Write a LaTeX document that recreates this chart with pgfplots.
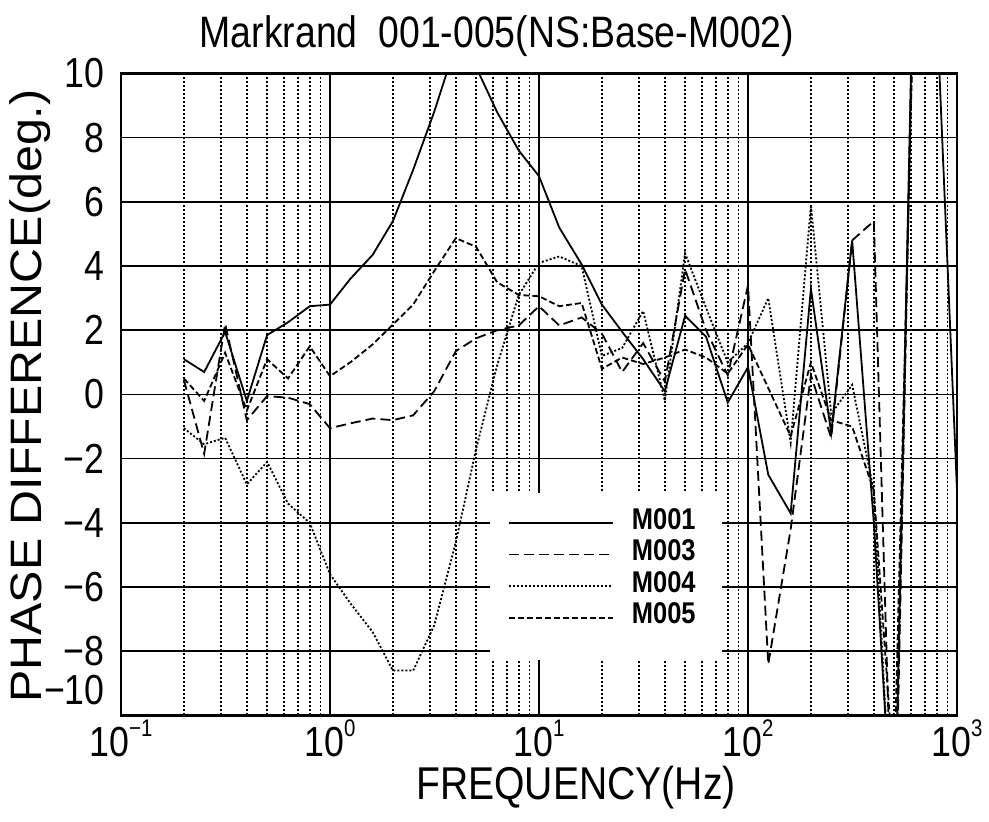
\documentclass[border=0pt]{standalone}
\usepackage{fontspec}
\setmainfont{Liberation Sans}[FakeStretch=0.85]
\newfontfamily\plainsans{Liberation Sans}
\usepackage{pgfplots}
\pgfplotsset{compat=1.18}
\newcommand\tp[1]{10\raisebox{10pt}{\fontsize{12}{12}\selectfont #1}}
\begin{document}
\begin{tikzpicture}
\begin{axis}[
  at={(0,0)}, anchor=south west,
  scale only axis, width=418pt, height=321pt,
  xmode=log, xmin=0.1, xmax=1000, ymin=-10, ymax=10,
  xtick={0.1,1,10,100,1000},
  xticklabels={\tp{−1},\tp{0},\tp{1},\tp{2},\tp{3}},
  minor xtick={0.2,0.3,0.4,0.5,0.6,0.7,0.8,0.9,2,3,4,5,6,7,8,9,20,30,40,50,60,70,80,90,200,300,400,500,600,700,800,900},
  ytick={-8,-6,-4,-2,0,2,4,6,8,10},
  yticklabels={−8,−6,−4,−2,0,2,4,6,8,10},
  extra y ticks={-10},
  extra y tick labels={−10},
  extra y tick style={yticklabel style={yshift=12.5pt}},
  xmajorgrids, xminorgrids, ymajorgrids,
  major x grid style={black, line width=0.8pt},
  minor x grid style={black, line width=0.9pt, dash pattern=on 1pt off 1pt},
  major y grid style={black, line width=0.8pt},
  major tick length=0pt, minor tick length=0pt,
  axis line style={line width=1.3pt},
  tick label style={font=\fontsize{21}{21}\selectfont},
  yticklabel style={anchor=east, inner sep=0pt, xshift=-8pt},
  xticklabel style={anchor=north, inner sep=0pt, yshift=-2pt, text depth=0pt},
  legend style={at={(rel axis cs:0.441,0.347)}, anchor=north west, draw=none, fill=none,
    font=\bfseries\fontsize{15}{15}\selectfont, inner xsep=9pt, inner ysep=7pt,
    row sep=0pt, nodes={text height=11pt, text depth=4.8pt, inner sep=0pt},
    /tikz/every odd column/.append style={column sep=9pt}},
  legend image code/.code={\draw[#1] (0pt,0pt) -- (52pt,0pt);},
  legend cell align=left,
  every axis plot/.append style={black, line width=0.9pt},
]
\addplot[solid] coordinates {
(0.2,1.1) (0.25,0.7) (0.315,1.95) (0.4,-0.2) (0.5,1.85) (0.63,2.25) (0.8,2.75) (1.0,2.8)
(1.25,3.6) (1.6,4.35) (2.0,5.4) (2.5,7.0) (3.15,8.8) (4.0,10.9) (5.0,10.2) (6.3,8.8)
(8.0,7.6) (10,6.8) (12.5,5.2) (16,4.05) (20,2.8) (25,1.95) (31.5,1.1) (40,0.1) (50,2.45)
(63,1.8) (80,-0.25) (100,0.85) (125,-2.5) (160,-3.7) (200,3.3) (250,-1.2) (315,4.8)
(400,-4.0) (500,-14.6) (630,16) (800,12) (1000,-3)
};
\addlegendentry{M001}
\addplot[dash pattern=on 5pt off 2.5pt] coordinates {
(0.2,0.45) (0.25,-1.85) (0.315,2.2) (0.4,-0.8) (0.5,-0.05) (0.63,-0.1) (0.8,-0.3) (1.0,-1.05)
(1.25,-0.9) (1.6,-0.75) (2.0,-0.8) (2.5,-0.65) (3.15,0.1) (4.0,1.35) (5.0,1.75) (6.3,2.0)
(8.0,2.15) (10,2.75) (12.5,2.15) (16,2.4) (20,1.9) (25,0.7) (31.5,1.6) (40,0.4) (50,3.9)
(63,2.0) (80,0.6) (100,3.4) (125,-8.4) (160,-4.2) (200,0.6) (250,-1.35) (315,4.8)
(400,5.4) (500,-16) (630,16) (800,14) (1000,12)
};
\addlegendentry{M003}
\addplot[dash pattern=on 1pt off 1pt] coordinates {
(0.2,-1.05) (0.25,-1.55) (0.315,-1.35) (0.4,-2.8) (0.5,-2.1) (0.63,-3.4) (0.8,-4.0) (1.0,-5.6)
(1.25,-6.5) (1.6,-7.4) (2.0,-8.6) (2.5,-8.6) (3.15,-7.2) (4.0,-4.6) (5.0,-1.7) (6.3,0.9)
(8.0,3.1) (10,4.1) (12.5,4.3) (16,4.0) (20,1.2) (25,1.45) (31.5,2.6) (40,-0.2) (50,4.4)
(63,2.7) (80,1.0) (100,1.6) (125,3.0) (160,-1.5) (200,5.9) (250,-0.6) (315,0.3)
(400,-3.0) (500,-15) (630,15) (800,13) (1000,14)
};
\addlegendentry{M004}
\addplot[dash pattern=on 3pt off 1.5pt] coordinates {
(0.2,0.5) (0.25,-0.2) (0.315,1.3) (0.4,-0.5) (0.5,1.1) (0.63,0.5) (0.8,1.5) (1.0,0.57)
(1.25,1.0) (1.6,1.56) (2.0,2.18) (2.5,2.8) (3.15,3.84) (4.0,4.87) (5.0,4.6) (6.3,3.5)
(8.0,3.1) (10,3.06) (12.5,2.75) (16,2.85) (20,0.8) (25,1.15) (31.5,0.95) (40,1.15) (50,1.4)
(63,1.15) (80,0.65) (100,1.56) (125,0.2) (160,-1.3) (200,1.0) (250,-0.8) (315,-1.0)
(400,-3.0) (500,-12) (630,14) (800,12) (1000,13)
};
\addlegendentry{M005}
\fill[white] (rel axis cs:0.441,0.0864) rectangle (rel axis cs:0.719,0.347);
\end{axis}
\node[anchor=base, font=\fontsize{22}{22}\selectfont] at (188pt,333.75pt) {Markrand\ \ 001-005(NS:Base-M002)};
\node[anchor=base, font=\fontsize{23}{23}\selectfont] at (227.5pt,-42pt) {FREQUENCY(Hz)};
\node[anchor=base, rotate=90, font=\plainsans\fontsize{22}{22}\selectfont] at (-39.5pt,159.75pt) {\scalebox{1.1}[1]{PHASE DIFFERENCE(deg.)}};
\pgfresetboundingbox
\useasboundingbox (-60.5pt,-53.25pt) rectangle (434pt,357.75pt);
\end{tikzpicture}
\end{document}
